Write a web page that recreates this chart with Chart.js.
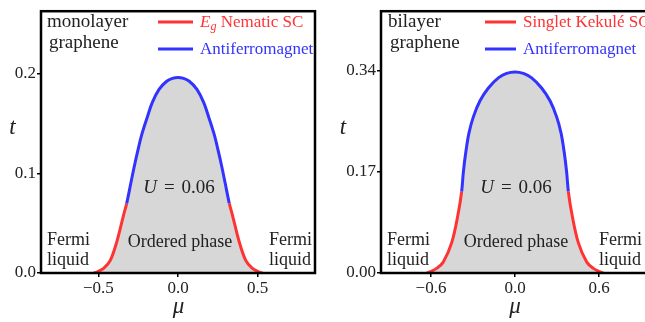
<!DOCTYPE html>
<html>
<head>
<meta charset="utf-8">
<script src="https://cdn.jsdelivr.net/npm/chart.js@4/dist/chart.umd.min.js"></script>
<style>
html,body{margin:0;padding:0;background:#fff;overflow:hidden;width:645px;height:322px;}
#wrap{position:relative;width:645px;height:322px;overflow:hidden;}
canvas{position:absolute;top:0;}
#c1{left:0;}
#c2{left:330px;}
</style>
</head>
<body>
<div id="wrap">
<canvas id="c1" width="330" height="322"></canvas>
<canvas id="c2" width="330" height="322"></canvas>
</div>
<script>
// ---------- data ----------
const leftMu = [-0.53,-0.508,-0.467,-0.425,-0.383,-0.342,-0.322,-0.297,-0.276,-0.253,-0.228,-0.196,-0.161,-0.119,-0.071,-0.035,0,0.035,0.071,0.119,0.161,0.196,0.228,0.253,0.276,0.297,0.322,0.342,0.383,0.425,0.467,0.508,0.53];
const leftT  = [0,0.001,0.0046,0.0127,0.032,0.058,0.070,0.0896,0.106,0.1224,0.1387,0.155,0.1714,0.1845,0.1926,0.1955,0.1965,0.1955,0.1926,0.1845,0.1714,0.155,0.1387,0.1224,0.106,0.0896,0.070,0.058,0.032,0.0127,0.0046,0.001,0];
const leftSplit = 0.070;
const leftSeries = ['E_g Nematic SC', 'Antiferromagnet'];
const leftXTicks = [-0.5, 0, 0.5];
const leftXLabels = ['\u22120.5', '0.0', '0.5'];
const leftYTicks = [0, 0.1, 0.2];
const leftYLabels = ['0.0', '0.1', '0.2'];

const rightMu = [-0.63,-0.607,-0.56,-0.512,-0.452,-0.405,-0.381,-0.369,-0.352,-0.329,-0.298,-0.25,-0.19,-0.119,-0.06,0,0.06,0.119,0.19,0.25,0.298,0.329,0.352,0.369,0.381,0.405,0.452,0.512,0.56,0.607,0.63];
const rightT  = [0,0.002,0.0077,0.0186,0.051,0.1007,0.137,0.169,0.202,0.235,0.262,0.2895,0.311,0.328,0.3355,0.338,0.3355,0.328,0.311,0.2895,0.262,0.235,0.202,0.169,0.137,0.1007,0.051,0.0186,0.0077,0.002,0];
const rightSplit = 0.137;
const rightSeries = ['Singlet Kekul\u00e9 SC', 'Antiferromagnet'];
const rightXTicks = [-0.6, 0, 0.6];
const rightXLabels = ['\u22120.6', '0.0', '0.6'];
const rightYTicks = [0, 0.17, 0.34];
const rightYLabels = ['0.00', '0.17', '0.34'];

// ---------- styles ----------
const RED = '#ff3333', BLUE = '#3333ff', GRAY = '#d7d7d7', INK = '#222222';
const FONT = "'Liberation Serif', 'DejaVu Serif', serif";
const TENSION = 0.35;

function drawParts(ctx, parts, x, y, size, align, color) {
  let w = 0;
  const meas = parts.map(p => {
    const s = Math.round(size * (p.scale || 1));
    const f = (p.it ? 'italic ' : '') + s + 'px ' + FONT;
    ctx.font = f;
    const mw = ctx.measureText(p.t).width + (p.gap || 0);
    w += mw;
    return {p, f, mw};
  });
  let cx = align === 'center' ? x - w / 2 : x;
  ctx.fillStyle = color;
  ctx.textBaseline = 'alphabetic';
  ctx.textAlign = 'left';
  meas.forEach(m => {
    ctx.font = m.f;
    ctx.fillText(m.p.t, cx, y + (m.p.dy || 0));
    cx += m.mw;
  });
}

function seriesParts(name) {
  if (name.indexOf('_') >= 0) {
    const [a, rest] = name.split('_');
    const sub = rest.split(' ')[0];
    const tail = rest.slice(sub.length);
    return [{t: a, it: true}, {t: sub, it: true, scale: 0.7, dy: 3}, {t: tail}];
  }
  return [{t: name}];
}

const U_PARTS = [{t: 'U', it: true, gap: 7}, {t: '=', gap: 7}, {t: '0.06'}];

function makeChart(id, mu, tv, split, series, xT, xL, yT, yL, cfg) {
  const mk = () => mu.map((m, i) => ({x: m, y: tv[i]}));
  const annot = {
    id: 'annot',
    afterDatasetsDraw(chart) {
      const ctx = chart.ctx, a = chart.chartArea;
      const o = cfg.offset;
      ctx.save();
      ctx.strokeStyle = '#000';
      ctx.lineWidth = 2.5;
      ctx.strokeRect(a.left, a.top, a.right - a.left, a.bottom - a.top);
      const L = cfg.legend;
      [[RED, series[0], L.y1, L.b1], [BLUE, series[1], L.y2, L.b2]].forEach(([c, name, ly, lb]) => {
        ctx.strokeStyle = c; ctx.lineWidth = 3;
        ctx.beginPath(); ctx.moveTo(L.x0 - o, ly); ctx.lineTo(L.x1 - o, ly); ctx.stroke();
        drawParts(ctx, seriesParts(name), L.tx - o, lb, 16.5, 'left', c);
      });
      cfg.texts.forEach(t => drawParts(ctx, t.parts, t.x - o, t.y, t.size, t.align, INK));
      ctx.restore();
    }
  };
  return new Chart(document.getElementById(id), {
    type: 'line',
    data: {
      datasets: [{
        label: 'Ordered phase',
        data: mk(),
        fill: 'origin',
        backgroundColor: GRAY,
        borderWidth: 1,
        borderColor: GRAY,
        pointRadius: 0,
        tension: TENSION,
        order: 2
      }, {
        label: series.join(' / '),
        data: mk(),
        fill: false,
        borderWidth: 3,
        borderColor: RED,
        segment: {
          borderColor: c => (c.p0.parsed.y >= split - 1e-9 && c.p1.parsed.y >= split - 1e-9) ? BLUE : RED,
          borderWidth: 3
        },
        pointRadius: 0,
        tension: TENSION,
        order: 1
      }]
    },
    options: {
      responsive: false,
      animation: false,
      devicePixelRatio: 1,
      layout: {padding: cfg.padding},
      plugins: {legend: {display: false}, tooltip: {enabled: false}},
      scales: {
        x: {
          type: 'linear', min: cfg.xmin, max: cfg.xmax,
          afterFit: s => { s.height = 49; },
          afterBuildTicks: s => { s.ticks = xT.map(v => ({value: v})); },
          ticks: {
            callback: (v, i) => xL[i], color: INK, padding: 1, maxRotation: 0, autoSkip: false,
            font: {family: FONT, size: 17}
          },
          grid: {drawOnChartArea: false, drawTicks: true, tickLength: 4, color: '#000', lineWidth: 1.5},
          border: {display: false}
        },
        y: {
          type: 'linear', min: 0, max: cfg.ymax,
          afterFit: s => { s.width = cfg.yw; },
          afterBuildTicks: s => { s.ticks = yT.map(v => ({value: v})); },
          ticks: {
            callback: (v, i) => yL[i], color: INK, padding: 1, autoSkip: false,
            font: {family: FONT, size: 17}
          },
          grid: {drawOnChartArea: false, drawTicks: true, tickLength: 4, color: '#000', lineWidth: 1.5},
          border: {display: false}
        }
      }
    },
    plugins: [annot]
  });
}

makeChart('c1', leftMu, leftT, leftSplit, leftSeries, leftXTicks, leftXLabels, leftYTicks, leftYLabels, {
  offset: 0, padding: {left: 0, top: 5, right: 15, bottom: 0}, yw: 41,
  xmin: -0.86, xmax: 0.86, ymax: 0.263,
  legend: {x0: 158, x1: 193, tx: 200, y1: 22, b1: 27, y2: 49, b2: 54},
  texts: [
    {parts: [{t: 'monolayer'}], x: 47, y: 27, size: 18.5, align: 'left'},
    {parts: [{t: 'graphene'}], x: 49, y: 48, size: 18.5, align: 'left'},
    {parts: U_PARTS, x: 179, y: 193, size: 19, align: 'center'},
    {parts: [{t: 'Ordered phase'}], x: 180, y: 247, size: 18, align: 'center'},
    {parts: [{t: 'Fermi'}], x: 47, y: 245, size: 18, align: 'left'},
    {parts: [{t: 'liquid'}], x: 47, y: 265, size: 18, align: 'left'},
    {parts: [{t: 'Fermi'}], x: 269, y: 245, size: 18, align: 'left'},
    {parts: [{t: 'liquid'}], x: 269, y: 265, size: 18, align: 'left'},
    {parts: [{t: 't', it: true}], x: 12.5, y: 134, size: 23, align: 'center'},
    {parts: [{t: '\u03bc', it: true}], x: 178.5, y: 313, size: 23, align: 'center'}
  ]
});

makeChart('c2', rightMu, rightT, rightSplit, rightSeries, rightXTicks, rightXLabels, rightYTicks, rightYLabels, {
  offset: 330, padding: {left: 0, top: 5, right: 11, bottom: 0}, yw: 51,
  xmin: -0.957, xmax: 0.957, ymax: 0.44,
  legend: {x0: 485, x1: 516, tx: 523, y1: 22, b1: 27, y2: 49, b2: 54},
  texts: [
    {parts: [{t: 'bilayer'}], x: 388, y: 27, size: 18.5, align: 'left'},
    {parts: [{t: 'graphene'}], x: 390, y: 48, size: 18.5, align: 'left'},
    {parts: U_PARTS, x: 516, y: 193, size: 19, align: 'center'},
    {parts: [{t: 'Ordered phase'}], x: 516, y: 247, size: 18, align: 'center'},
    {parts: [{t: 'Fermi'}], x: 387, y: 245, size: 18, align: 'left'},
    {parts: [{t: 'liquid'}], x: 387, y: 265, size: 18, align: 'left'},
    {parts: [{t: 'Fermi'}], x: 599, y: 245, size: 18, align: 'left'},
    {parts: [{t: 'liquid'}], x: 599, y: 265, size: 18, align: 'left'},
    {parts: [{t: 't', it: true}], x: 343, y: 134, size: 23, align: 'center'},
    {parts: [{t: '\u03bc', it: true}], x: 515, y: 313, size: 23, align: 'center'}
  ]
});
</script>
</body>
</html>
